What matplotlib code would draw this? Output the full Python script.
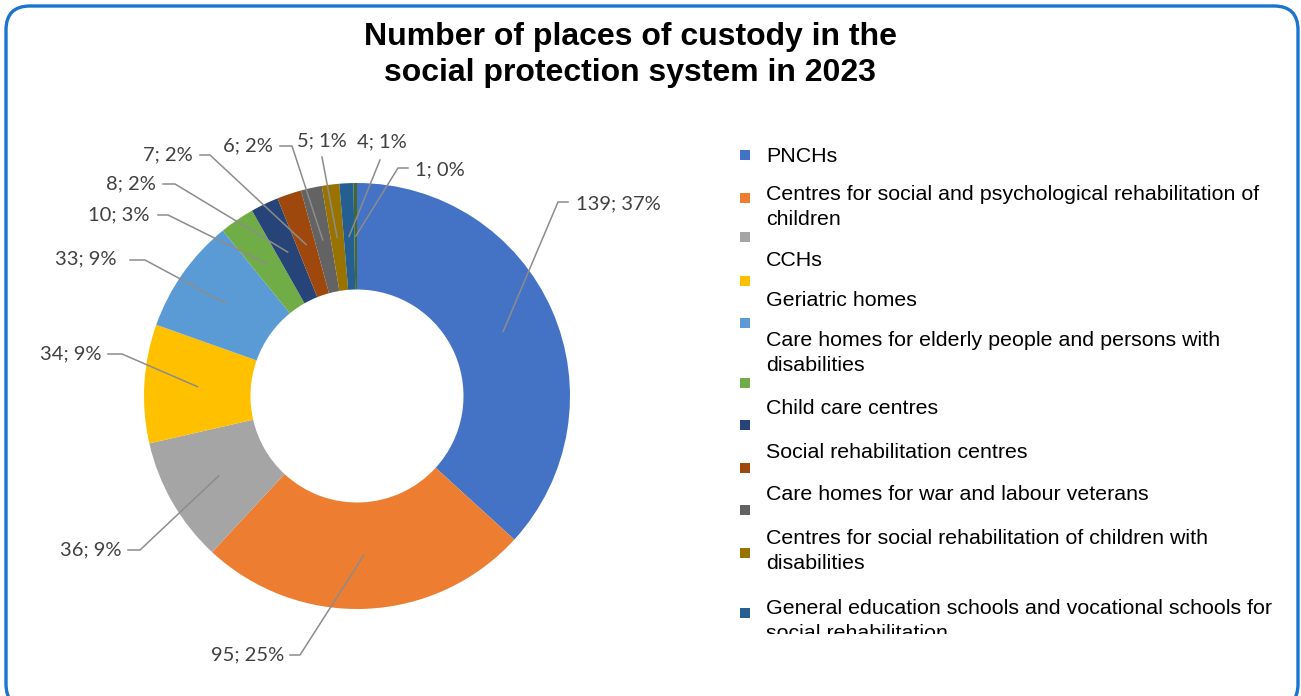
import numpy as np
import matplotlib.pyplot as plt
from matplotlib.patches import FancyBboxPatch, Rectangle

# Places of custody in the social protection system, 2023
values = [139, 95, 36, 34, 33, 10, 8, 7, 6, 5, 4, 1]
shares = [37, 25, 9, 9, 9, 3, 2, 2, 2, 1, 1, 0]   # % as printed on the labels
colors = ['#4472C4', '#ED7D31', '#A5A5A5', '#FFC000', '#5B9BD5', '#70AD47',
          '#264478', '#9E480E', '#636363', '#997300', '#255E91', '#43682B']
legend_labels = [
    'PNCHs',
    'Centres for social and psychological rehabilitation of\nchildren',
    'CCHs',
    'Geriatric homes',
    'Care homes for elderly people and persons with\ndisabilities',
    'Child care centres',
    'Social rehabilitation centres',
    'Care homes for war and labour veterans',
    'Centres for social rehabilitation of children with\ndisabilities',
    'General education schools and vocational schools for\nsocial rehabilitation',
]
title = 'Number of places of custody in the\nsocial protection system in 2023'

W, H = 1301, 696
CX, CY, R = 357, 396, 213          # donut centre / radius in pixels

fig = plt.figure(figsize=(W / 100, H / 100), dpi=100)

# overlay in pixel coordinates (y measured from the top) for frame, title, legend
bg = fig.add_axes([0, 0, 1, 1])
bg.set_xlim(0, W)
bg.set_ylim(0, H)
bg.axis('off')


def top(y):
    return H - y


frame = FancyBboxPatch((6, top(708)), 1292, 702, boxstyle='round,pad=0,rounding_size=24',
                       fc='none', ec='#1A75CF', lw=2.4, zorder=1, clip_on=False)
bg.add_patch(frame)

bg.text(630, top(55), title, ha='center', va='center', fontsize=23, fontweight='bold',
        family='Liberation Sans', linespacing=1.24, color='black')

# donut
ax = fig.add_axes([(CX - R) / W, (H - CY - R) / H, 2 * R / W, 2 * R / H])
wedges, _ = ax.pie(values, colors=colors, startangle=90, counterclock=False,
                   radius=1, wedgeprops=dict(width=0.5, edgecolor='none'))
ax.set_xlim(-1, 1)
ax.set_ylim(-1, 1)
ax.set_aspect('equal')
ax.axis('off')


def px(x, y):
    return (x - CX) / R, (CY - y) / R


labels = [f'{v}; {s}%' for v, s in zip(values, shares)]

# label text position (px), alignment, leader elbow points (px)
label_pos = [
    ((576, 204), 'left', [(558, 202), (568, 202)]),
    ((284, 655), 'right', [(300, 655), (290, 655)]),
    ((122, 550), 'right', [(140, 550), (128, 550)]),
    ((101, 354), 'right', [(122, 354), (108, 354)]),
    ((116, 259), 'right', [(145, 260), (130, 260)]),
    ((149, 215), 'right', [(168, 215), (158, 215)]),
    ((156, 184), 'right', [(175, 184), (163, 184)]),
    ((193, 155), 'right', [(210, 155), (200, 155)]),
    ((273, 146), 'right', [(292, 146), (280, 146)]),
    ((322, 141), 'center', [(322, 157)]),
    ((382, 142), 'center', [(380, 160)]),
    ((415, 170), 'left', [(398, 168), (408, 168)]),
]

for w, lab, (tpos, ha, elbows) in zip(wedges, labels, label_pos):
    mid = np.deg2rad((w.theta1 + w.theta2) / 2)
    pts = [(0.75 * np.cos(mid), 0.75 * np.sin(mid))] + [px(*p) for p in elbows]
    xs, ys = zip(*pts)
    ax.plot(xs, ys, color='#8C8C8C', lw=1.1, clip_on=False)
    ax.text(*px(*tpos), lab, ha=ha, va='center', fontsize=14.5, family='Lato',
            color='#404040', clip_on=False)

# legend (square markers and texts placed separately; last entry is cut off)
marker_y = [155, 198, 237, 281, 323, 383, 425, 468, 510, 553, 613]
text_y = [157, 207, 260, 300, 353, 409, 452, 494, 551, 621]
bg.scatter([745] * len(marker_y), [top(y) for y in marker_y], marker='s', s=55,
           c=colors[:len(marker_y)], linewidths=0, zorder=3)
clip = Rectangle((700, top(634)), 600, 514, transform=bg.transData, visible=False)
bg.add_patch(clip)
for lab, y in zip(legend_labels, text_y):
    t = bg.text(766, top(y), lab, ha='left', va='center', fontsize=15.4,
                family='Liberation Sans', color='black', linespacing=1.45,
                clip_on=True)
    t.set_clip_path(clip)

fig.savefig('out.png', dpi=100)
